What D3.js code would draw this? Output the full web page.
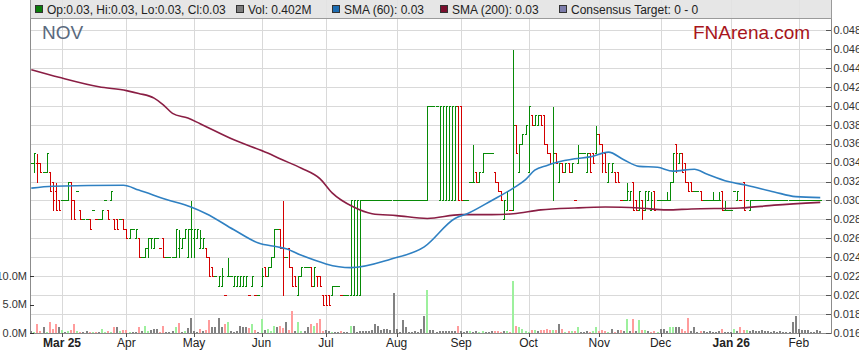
<!DOCTYPE html>
<html>
<head>
<meta charset="utf-8">
<script src="https://cdn.jsdelivr.net/npm/d3@7"></script>
<style>
body{margin:0;background:#fff;}
svg{display:block;font-family:"Liberation Sans",Arial,sans-serif;}
</style>
</head>
<body>
<svg width="859" height="363"></svg>
<script>
// daily bars, one per weekday starting Mon 17 Feb 2025
// prices are in thousandths of a dollar: [open, high, low, close]
var firstDay = [2025, 1, 17];
var ohlc = [
  [34,34,34,34],[34,35,33,35],[34,35,32,34],[34,34,33,33],[33,33,33,33],[33,35,33,35],[33,33,31,31],[32,32,29,30],[31,32,29,29],[30,30,29,29],
  [30,30,30,30],[30,30,30,30],[30,32,30,32],[32,32,28,30],[30,30,28,28],[31,31,31,31],[29,29,28,28],[28,28,28,28],[28,28,28,28],[28,28,27,27],
  [29,29,29,29],[28,28,28,28],[28,28,28,28],[28,29,28,29],[30,30,30,30],[29,29,28,28],[30,31,30,31],[28,28,27,27],[28,28,27,27],[28,28,28,28],
  [28,28,27,27],[27,27,26,26],[26,27,26,27],[27,27,27,27],[26,27,26,27],[26,26,24,24],[24,24,24,24],[24,25,24,25],[25,26,24,26],[26,26,25,26],
  [25,26,25,26],[26,26,26,26],[25,25,25,25],[26,26,24,24],[24,24,24,24],[24,24,24,24],[24,24,24,24],[24,27,24,27],[25,27,24,26],[25,26,25,26],
  [26,27,26,27],[24,27,24,27],[27,30,24,27],[26,27,24,27],[26,27,26,27],[25,27,25,26],[25,26,25,26],[25,25,24,24],[24,24,22,22],[23,23,22,22],
  [22,22,22,22],[21,22,21,22],[21,23,21,22],[20,20,20,20],[22,24,22,22],[22,22,22,22],[21,22,21,22],[21,22,21,22],[21,22,21,22],[21,22,21,22],
  [21,22,21,22],[20,20,20,20],[21,22,21,22],[20,20,20,20],[20,20,20,20],[21,23,21,22],[23,23,22,22],[22,23,22,23],[23,24,23,24],[24,27,24,27],
  [27,27,27,27],[27,27,25,25],[25,30,20,24],[24,24,24,24],[25,25,23,23],[23,23,21,21],[22,22,21,21],[20,22,20,22],[22,23,22,23],[23,23,23,23],
  [23,23,23,23],[23,23,21,21],[21,23,21,23],[22,22,21,22],[22,22,21,21],[20,20,19,19],[20,20,19,19],[20,20,19,19],[20,21,20,21],[21,21,21,21],
  [21,21,21,21],[20,20,20,20],[20,20,20,20],[20,20,20,20],[20,30,20,30],[20,30,20,30],[20,30,20,30],[20,30,20,30],[30,30,30,30],[30,30,30,30],
  [30,30,30,30],[30,30,30,30],[30,30,30,30],[30,30,30,30],[30,30,30,30],[30,30,30,30],[30,30,30,30],[30,30,30,30],[30,30,30,30],[30,30,30,30],
  [30,30,30,30],[30,30,30,30],[30,30,30,30],[30,30,30,30],[30,30,30,30],[30,30,30,30],[30,30,30,30],[30,30,30,30],[30,30,30,30],[30,40,30,40],
  [40,40,40,40],[40,40,40,40],[40,40,40,40],[30,40,30,40],[30,40,30,40],[30,40,30,40],[30,40,30,40],[30,40,30,40],[30,40,30,40],[40,40,30,30],
  [40,40,30,30],[30,30,30,30],[30,30,30,30],[32,32,32,32],[32,36,32,32],[33,33,32,32],[32,33,32,33],[33,35,33,35],[35,35,35,35],[35,35,35,35],
  [35,35,35,35],[33,33,32,32],[32,32,31,31],[31,31,30,30],[28,30,28,30],[29,31,29,31],[29,29,29,29],[29,46,29,38],[38,38,35,35],[33,36,33,36],
  [36,37,36,37],[37,38,37,38],[33,40,33,40],[39,39,38,38],[38,39,38,39],[38,39,38,39],[39,39,38,38],[39,39,36,36],[36,36,35,35],[35,35,34,34],
  [34,40,30,35],[35,35,34,34],[32,34,32,34],[34,34,33,33],[33,34,33,34],[34,34,33,33],[33,34,33,34],[30,30,30,30],[34,36,34,35],[35,35,35,35],
  [35,35,35,35],[33,35,33,35],[35,35,33,33],[35,35,34,34],[35,38,35,37],[37,37,36,36],[36,36,33,34],[35,35,33,33],[32,34,32,34],[33,34,33,34],
  [33,33,32,32],[33,33,32,32],[30,30,30,30],[30,30,30,30],[30,32,30,31],[30,31,30,31],[32,32,29,29],[30,30,29,29],[29,31,29,31],[30,30,28,29],
  [29,31,29,31],[30,31,30,31],[29,31,29,30],[31,31,29,29],[30,30,30,30],[30,30,30,30],[30,30,30,30],[30,31,30,30],[30,32,30,32],[32,35,32,35],
  [36,36,33,35],[34,35,34,35],[35,35,33,33],[34,34,32,32],[32,32,31,31],[32,32,31,31],[31,31,31,31],[31,31,31,31],[31,31,30,30],[30,30,30,30],
  [30,30,30,30],[30,30,30,30],[30,31,30,30],[30,30,30,30],[30,31,30,30],[31,31,29,29],[29,30,29,29],[29,29,29,29],[29,29,29,29],[31,31,31,31],
  [30,31,30,31],[30,30,30,30],[32,32,29,29],[30,30,30,30],[29,30,29,30],[30,30,30,30],[30,30,30,30],[30,30,30,30],[30,30,30,30],[30,30,30,30],
  [30,30,30,30],[30,30,30,30],[30,30,30,30],[30,30,30,30],[30,30,30,30],[30,30,30,30],[30,30,30,30],[30,30,30,30],[30,30,30,30],[30,30,30,30],
  [30,30,30,30],[30,30,30,30],[30,30,30,30],[30,30,30,30],[30,30,30,30],[30,30,30,30],[30,30,30,30],[30,30,30,30]
];

// volume in millions of shares
var volume = [
  0.3,0.2,1.5,0.3,1.0,0.2,2.0,0.7,1.6,1.0, 0.6,0.2,0.4,0.6,1.5,0.4,0.2,0.1,0.4,0.1,
  0.1,0.2,0.1,0.7,0.2,0.3,0.1,1.0,1.0,0.4, 0.5,0.6,0.1,0.2,0.1,1.0,0.4,1.3,0.4,0.5,
  0.7,0.7,0.2,1.2,0.1,0.1,0.4,1.0,1.7,0.2, 0.3,0.9,2.7,0.4,0.2,0.7,0.3,0.6,2.3,1.0,
  1.0,2.6,1.0,1.5,2.0,0.4,0.2,0.3,1.3,1.0, 1.0,0.9,1.6,0.6,0.2,2.4,0.6,0.7,0.3,1.2,
  1.0,1.2,0.8,1.9,0.5,3.8,0.3,2.0,0.4,0.3, 1.0,1.5,1.2,1.8,2.4,0.3,0.6,0.4,0.2,0.1,
  0.1,0.3,0.1,0.2,1.3,1.3,0.2,0.3,0.3,0.4, 0.3,0.5,1.6,1.3,0.6,0.7,0.7,0.6,7.0,0.7,
  0.2,2.2,1.0,0.2,0.1,0.3,0.2,0.7,3.0,7.6, 0.5,0.5,0.2,0.4,0.3,0.4,0.3,0.4,0.3,1.3,
  0.3,0.2,0.3,0.3,0.2,0.3,0.2,0.3,0.1,0.1, 0.4,0.4,0.4,0.1,0.3,0.3,0.2,9.2,1.3,1.1,
  0.7,0.4,0.2,0.5,0.6,0.4,0.5,0.6,0.7,0.5, 0.6,0.5,1.6,0.7,0.1,0.4,0.4,0.3,1.0,0.2,
  0.2,0.4,0.2,0.3,1.1,0.4,0.5,0.4,0.2,0.7, 0.2,0.5,0.5,0.4,2.4,0.4,2.4,0.4,2.2,0.5,
  0.5,0.4,0.2,0.4,0.1,0.7,0.7,0.3,1.0,1.0, 1.0,1.0,0.7,0.4,2.6,0.3,1.0,0.1,0.3,0.3,
  0.2,0.3,0.2,0.1,0.3,0.7,0.1,0.1,0.1,0.7, 0.3,1.0,0.5,0.5,0.4,0.5,0.4,0.4,0.5,0.3,
  0.4,0.2,0.3,0.1,0.3,0.1,0.1,0.2,2.0,2.9, 0.7,0.5,0.6,0.5,0.1,0.1,0.5,0.402
];

// moving averages: [bar index, price]
var sma60 = [[0,0.0313],[7,0.0315],[30,0.0316],[35,0.0311],[44,0.0301],[52,0.0293],[57,0.0286],[66,0.0269],[74,0.0255],
  [80,0.0251],[83,0.0249],[88,0.0242],[104,0.0229],[117,0.0238],[128,0.0251],[138,0.0281],[142,0.0286],[150,0.0300],
  [157,0.0313],[161,0.0322],[164,0.0332],[168,0.0337],[171,0.0340],[177,0.0344],[182,0.0346],[188,0.0351],[193,0.0343],
  [198,0.0336],[204,0.0335],[209,0.0331],[216,0.0333],[220,0.0328],[227,0.0320],[233,0.0316],[242,0.0309],[249,0.0304],[257,0.0303]];
var sma200 = [[0,0.0438],[9,0.0430],[22,0.0420],[31,0.0416],[35,0.0413],[40,0.0408],[43,0.0401],[46,0.0392],[51,0.0387],
  [55,0.0381],[66,0.0364],[77,0.0350],[81,0.0344],[88,0.0334],[94,0.0323],[98,0.0308],[105,0.0293],[111,0.0286],
  [119,0.0284],[129,0.0281],[140,0.0285],[150,0.0285],[157,0.0286],[166,0.0290],[177,0.0292],[187,0.0293],[198,0.0292],
  [207,0.0290],[215,0.0291],[231,0.0292],[242,0.0295],[257,0.0298]];

var priceTicks = [0.016,0.018,0.020,0.022,0.024,0.026,0.028,0.030,0.032,0.034,0.036,0.038,0.040,0.042,0.044,0.046,0.048];
var volTicks = [0, 5, 10];
var monthLabels = ["Mar 25","Apr","May","Jun","Jul","Aug","Sep","Oct","Nov","Dec","Jan 26","Feb"];
var boldLabels = ["Mar 25","Jan 26"];

// trading days (weekdays) for each bar
var days = [];
var dd = new Date(firstDay[0], firstDay[1], firstDay[2]);
while(days.length < ohlc.length)
{
  if(dd.getDay()!=0 && dd.getDay()!=6) days.push(new Date(dd));
  dd.setDate(dd.getDate()+1);
}
var monthIdx = [];
for(var i=1;i<days.length;i++)
{
  if(days[i].getMonth()!=days[i-1].getMonth()) monthIdx.push(i);
}

var bars = ohlc.map(function(b, i){
  var prevC = i>0 ? ohlc[i-1][3] : b[3];
  var down = b[3]<b[0] || (b[3]==b[0] && b[3]<prevC);
  var vdir = b[3]>prevC ? "up" : (b[3]<prevC ? "down" : "flat");
  return {i:i, o:b[0]/1000, h:b[1]/1000, l:b[2]/1000, c:b[3]/1000, down:down, vdir:vdir, vol:volume[i]};
});

var svg = d3.select("svg");
var left = 30, right = 831, bottom = 333;

var x = d3.scaleLinear().domain([-0.42, 260.5]).range([left, right]);
var y = d3.scaleLinear().domain([0.016, 0.048]).range([bottom, 30]);
var yv = d3.scaleLinear().domain([0, 10]).range([bottom, 276]);

// grid
var grid = svg.append("g").attr("shape-rendering","crispEdges");
grid.selectAll("line.hg").data(priceTicks).enter().append("line")
  .attr("class","hg")
  .attr("x1", left).attr("x2", right)
  .attr("y1", d => Math.round(y(d))+0.5).attr("y2", d => Math.round(y(d))+0.5)
  .style("stroke","#d9d9d9");
grid.selectAll("line.vg").data(monthIdx).enter().append("line")
  .attr("class","vg")
  .attr("x1", d => Math.round(x(d))+0.5).attr("x2", d => Math.round(x(d))+0.5)
  .attr("y1", 0).attr("y2", bottom)
  .style("stroke","#d9d9d9");

// volume
var volColor = {up:"#9df09d", down:"#ff9c9c", flat:"#828282"};
svg.append("g").attr("shape-rendering","crispEdges")
  .selectAll("rect").data(bars).enter().append("rect")
  .attr("x", d => Math.round(x(d.i))-1)
  .attr("width", 2)
  .attr("y", d => yv(d.vol))
  .attr("height", d => bottom - yv(d.vol))
  .style("fill", d => volColor[d.vdir]);

// price bars
var pb = svg.append("g").attr("shape-rendering","crispEdges");
var barG = pb.selectAll("g").data(bars).enter().append("g")
  .style("stroke", d => d.down ? "#d40000" : "#078a07")
  .style("stroke-width", 1);
barG.filter(d => d.h>d.l).append("line")
  .attr("x1", d => Math.round(x(d.i))+0.5).attr("x2", d => Math.round(x(d.i))+0.5)
  .attr("y1", d => Math.round(y(d.h))+0.5).attr("y2", d => Math.round(y(d.l))+0.5);
barG.append("line")
  .attr("x1", d => Math.round(x(d.i))-1).attr("x2", d => Math.round(x(d.i))+1)
  .attr("y1", d => Math.round(y(d.o))+0.5).attr("y2", d => Math.round(y(d.o))+0.5);
barG.append("line")
  .attr("x1", d => Math.round(x(d.i))).attr("x2", d => Math.round(x(d.i))+2.2)
  .attr("y1", d => Math.round(y(d.c))+0.5).attr("y2", d => Math.round(y(d.c))+0.5);

// moving averages
var line = d3.line().x(d => x(d[0])).y(d => y(d[1])).curve(d3.curveMonotoneX);
svg.append("path").datum(sma200).attr("d", line)
  .style("fill","none").style("stroke","#8a1e44").style("stroke-width",1.6);
svg.append("path").datum(sma60).attr("d", line)
  .style("fill","none").style("stroke","#2f80c2").style("stroke-width",1.6);

// axes frame
var ax = svg.append("g").attr("shape-rendering","crispEdges").style("stroke","#8c8c8c");
ax.append("line").attr("x1",left+0.5).attr("x2",left+0.5).attr("y1",0).attr("y2",bottom);
ax.append("line").attr("x1",right+0.5).attr("x2",right+0.5).attr("y1",0).attr("y2",bottom+0.5);
ax.append("line").attr("x1",left).attr("x2",right+1).attr("y1",bottom+0.5).attr("y2",bottom+0.5);

// right price axis
var ra = svg.append("g");
ra.selectAll("line").data(priceTicks).enter().append("line")
  .attr("shape-rendering","crispEdges")
  .attr("x1", right-5).attr("x2", right)
  .attr("y1", d => Math.round(y(d))+0.5).attr("y2", d => Math.round(y(d))+0.5)
  .style("stroke","#555");
ra.selectAll("text").data(priceTicks).enter().append("text")
  .attr("x", right+2.5).attr("y", d => y(d)).attr("dy","0.35em")
  .style("font-size","11px").style("fill","#333")
  .text(d => d3.format(".3f")(d));

// left volume axis
var la = svg.append("g");
la.selectAll("line").data(volTicks).enter().append("line")
  .attr("shape-rendering","crispEdges")
  .attr("x1", left).attr("x2", left+4)
  .attr("y1", d => Math.round(yv(d))+0.5).attr("y2", d => Math.round(yv(d))+0.5)
  .style("stroke","#333");
la.selectAll("text").data(volTicks).enter().append("text")
  .attr("x", left-3).attr("y", d => yv(d)).attr("dy","0.35em")
  .attr("text-anchor","end")
  .style("font-size","11px").style("fill","#333")
  .text(d => d3.format(".1f")(d)+"M");

// bottom date axis
var ba = svg.append("g");
ba.selectAll("line").data(monthIdx).enter().append("line")
  .attr("shape-rendering","crispEdges")
  .attr("x1", d => Math.round(x(d))+0.5).attr("x2", d => Math.round(x(d))+0.5)
  .attr("y1", bottom).attr("y2", bottom+4)
  .style("stroke","#555");
ba.selectAll("text").data(monthIdx).enter().append("text")
  .attr("x", d => x(d)).attr("y", 347)
  .attr("text-anchor","middle")
  .style("font-size","12px").style("fill","#222")
  .style("font-weight", (d,k) => boldLabels.indexOf(monthLabels[k])!=-1 ? "bold" : "normal")
  .text((d,k) => monthLabels[k]);

// titles
svg.append("text").attr("x",42).attr("y",39)
  .style("font-size","19px").style("fill","#5a6a7e").text("NOV");
svg.append("text").attr("x",693).attr("y",39)
  .style("font-size","19px").style("fill","#a8151c").text("FNArena.com");

// legend
var last = bars[bars.length-1];
var f2 = d3.format(".2f");
var legendItems = [
  {sq:35, tx:47, fill:"#0b7d0b", txt:"Op:"+f2(last.o)+", Hi:"+f2(last.h)+", Lo:"+f2(last.l)+", Cl:"+f2(last.c)},
  {sq:236, tx:248, fill:"#7d7d7d", txt:"Vol: "+d3.format(".3f")(last.vol)+"M"},
  {sq:332, tx:344, fill:"#1d6db2", txt:"SMA (60): "+f2(sma60[sma60.length-1][1])},
  {sq:440, tx:452, fill:"#7b0f2e", txt:"SMA (200): "+f2(sma200[sma200.length-1][1])},
  {sq:559, tx:571, fill:"#7c7cab", txt:"Consensus Target: 0 - 0"}
];
var lg = svg.append("g");
lg.append("rect").attr("x",left+0.5).attr("y",-1).attr("width",right-left).attr("height",19.5)
  .attr("shape-rendering","crispEdges")
  .style("fill","#e3e3e3").style("fill-opacity",0.88).style("stroke","#9a9a9a");
var li = lg.selectAll("g").data(legendItems).enter().append("g");
li.append("rect").attr("x", d => d.sq+0.5).attr("y",5.5).attr("width",7).attr("height",7)
  .attr("shape-rendering","crispEdges")
  .style("fill", d => d.fill).style("stroke","#333");
li.append("text").attr("x", d => d.tx).attr("y",13.5)
  .style("font-size","12px").style("fill","#222").text(d => d.txt);
</script>
</body>
</html>
